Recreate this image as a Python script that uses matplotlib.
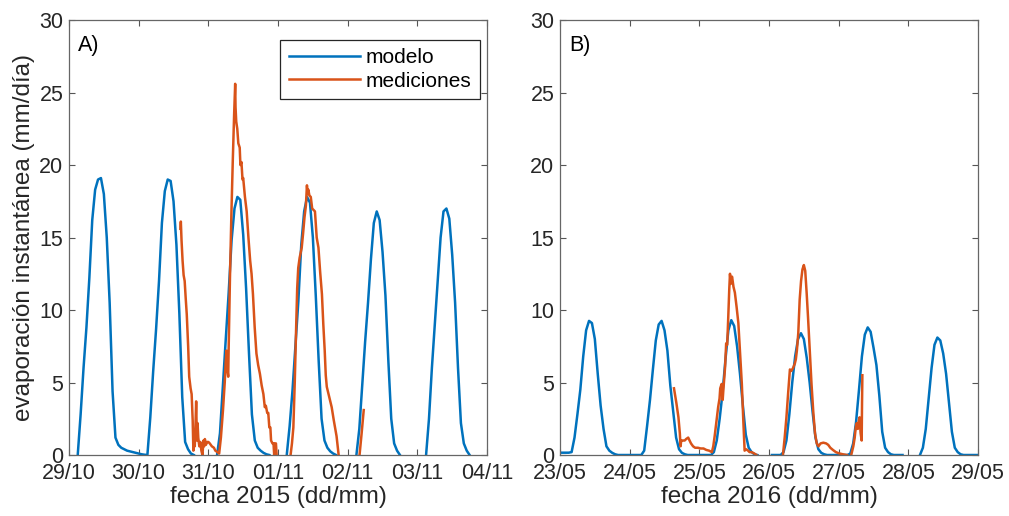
import numpy as np
import matplotlib
matplotlib.use("Agg")
import matplotlib.pyplot as plt
import matplotlib.dates as mdates

plt.rcParams['font.family'] = ['Liberation Sans', 'DejaVu Sans']

nan = np.nan
AZUL = '#0072BD'
NARANJA = '#D95319'
GRIS = '#262626'

# ---------------------------------------------------------------------------
# A) 2015: modelo cada hora desde 29/10 00:00
inicio_A = '2015-10-29T00:00'
modelo_A = [
    nan, nan, nan, 0, 2.8, 6.0, 8.8, 12.2, 16.2, 18.3, 19.0, 19.1, 18.0, 15.0, 10.5, 4.4, 1.2, 0.7, 0.5, 0.4, 0.3, 0.25, 0.2, 0.15,
    0.1, 0.05, 0.02, 0, 2.6, 5.8, 8.7, 12.0, 16.0, 18.2, 19.0, 18.9, 17.5, 14.5, 9.8, 4.0, 0.9, 0.4, 0.1, 0, nan, nan, nan, nan,
    nan, nan, nan, 0, 1.5, 4.8, 8.0, 11.2, 14.8, 17.0, 17.8, 17.6, 15.2, 11.5, 7.0, 2.8, 1.0, 0.5, 0.3, 0.15, 0.05, 0, nan, nan,
    nan, nan, nan, 0, 2.0, 4.5, 7.5, 10.6, 14.5, 16.8, 17.8, 17.4, 15.0, 11.0, 6.5, 2.5, 1.0, 0.5, 0.25, 0.1, 0, nan, nan, nan,
    nan, nan, nan, 0, 1.8, 4.8, 7.8, 10.5, 13.5, 16.0, 16.8, 16.2, 14.0, 11.0, 6.5, 2.5, 0.8, 0.3, 0, nan, nan, nan, nan, nan,
    nan, nan, nan, 0, 2.5, 6.0, 9.0, 12.0, 15.0, 16.8, 17.0, 16.3, 13.8, 10.5, 6.0, 2.2, 0.8, 0.3, 0, nan, nan, nan, nan, nan,
]

# mediciones (dias desde el inicio, valor); nan separa tramos
med_A_dias = [
    1.60, 1.605, 1.615, 1.63, 1.645, 1.66, 1.675, 1.69, 1.71, 1.725, 1.745, 1.76, 1.775, 1.785, 1.795,
    1.805, 1.815, 1.825, 1.835, 1.845, 1.855, 1.87, 1.885, 1.90, 1.915, 1.93, 1.94, 1.95, 1.965, 1.98,
    2.00, 2.02, 2.05, 2.08, 2.10, 2.13, 2.155, 2.18, 2.21, 2.235, 2.25, 2.26, 2.27, 2.285, 2.29, 2.31,
    2.33, 2.35, 2.37, 2.385, 2.39, 2.40, 2.415, 2.43, 2.45, 2.46, 2.475, 2.49, 2.50, 2.525, 2.55, 2.575,
    2.60, 2.62, 2.64, 2.665, 2.69, 2.715, 2.74, 2.765, 2.79, 2.81, 2.825, 2.845, 2.86, 2.875, 2.89, 2.90,
    2.92, 2.935, 2.945, 2.955, 2.97, 2.98,
    3.08,
    3.18, 3.20, 3.22, 3.24, 3.26, 3.275, 3.29, 3.31, 3.34, 3.36, 3.38, 3.40, 3.415, 3.425, 3.435, 3.45,
    3.47, 3.49, 3.51, 3.53, 3.555, 3.58, 3.605, 3.63, 3.65, 3.67, 3.685, 3.70, 3.735, 3.77, 3.80, 3.84, 3.87,
    4.00,
    4.17, 4.20, 4.23,
]
med_A_vals = [
    15.6, 16.1, 14.8, 13.4, 12.4, 12.0, 10.8, 9.7, 7.5, 5.4, 4.6, 4.2, 2.4, 0.3, 1.5,
    0.6, 2.0, 3.7, 1.0, 2.2, 1.2, 0.6, 0.9, 0.3, 0.0, 1.0, 0.6, 1.1, 0.7, 0.9,
    0.9, 0.8, 0.6, 0.5, 0.3, 0.2, 0.1, 1.2, 3.1, 5.0, 6.5, 7.2, 6.0, 5.4, 7.0, 12.2,
    16.5, 20.2, 23.5, 25.6, 24.0, 23.0, 22.5, 21.5, 21.2, 20.0, 20.2, 19.0, 19.1, 17.8, 16.8, 15.0,
    13.4, 12.5, 11.1, 8.8, 7.0, 6.2, 5.6, 4.8, 4.2, 3.3, 3.4, 2.9, 2.9, 1.9, 1.9, 1.0,
    0.8, 0.8, 0.0, 0.8, 0.8, 0.0,
    nan,
    0.0, 0.8, 1.9, 5.0, 8.8, 11.5, 12.9, 13.6, 14.3, 15.3, 16.4, 17.2, 18.6, 18.0, 18.3, 17.9,
    17.8, 17.0, 16.9, 16.8, 15.0, 14.3, 12.6, 11.1, 9.0, 7.2, 5.5, 4.7, 4.0, 3.3, 2.4, 1.3, 0.0,
    nan,
    0.0, 1.5, 3.1,
]

# ---------------------------------------------------------------------------
# B) 2016: modelo cada hora desde 23/05 00:00
inicio_B = '2016-05-23T00:00'
modelo_B = [
    0.16, 0.16, 0.16, 0.16, 0.2, 1.2, 2.8, 4.5, 6.8, 8.6, 9.25, 9.1, 8.0, 5.6, 3.4, 1.8, 0.6, 0.3, 0.15, 0.05, 0, 0, 0, 0,
    0, 0, 0, 0, 0, 0.3, 2.0, 3.8, 5.9, 7.9, 9.0, 9.25, 8.6, 7.2, 4.8, 3.0, 1.2, 0.4, 0.15, 0.05, 0, 0, 0, 0,
    0, 0, 0, 0, 0, 0.2, 1.0, 2.5, 4.3, 6.6, 8.6, 9.3, 8.9, 7.5, 5.6, 3.4, 1.4, 0.5, 0.2, 0.05, 0, nan, nan, nan,
    nan, 0, 0, 0, 0, 0.2, 1.0, 2.8, 5.0, 6.8, 8.0, 8.4, 8.0, 6.7, 5.0, 3.0, 1.2, 0.4, 0.15, 0.05, 0, 0, 0, 0,
    0, 0, 0, 0, 0.1, 0.8, 2.3, 4.5, 6.8, 8.3, 8.8, 8.5, 7.4, 6.2, 4.1, 1.6, 0.5, 0.2, 0.05, 0, 0, 0, 0, nan,
    nan, nan, nan, nan, 0, 0.5, 1.8, 3.9, 6.0, 7.6, 8.1, 7.9, 7.0, 5.6, 3.6, 1.6, 0.5, 0.2, 0.05, 0, 0, 0, 0, 0,
    0,
]

med_B_dias = [
    1.636, 1.67, 1.70, 1.72, 1.73, 1.74, 1.76, 1.79, 1.81, 1.84, 1.86, 1.88, 1.91, 1.94, 1.98, 2.02,
    2.06, 2.10, 2.14, 2.18, 2.20, 2.22, 2.245, 2.27, 2.29, 2.30, 2.32, 2.335, 2.345, 2.37, 2.385, 2.40,
    2.415, 2.43, 2.44, 2.45, 2.46, 2.47, 2.49, 2.51, 2.535, 2.56, 2.585, 2.61, 2.63, 2.65, 2.67, 2.70,
    2.72, 2.75, 2.79, 2.82,
    3.00,
    3.20, 3.225, 3.25, 3.275, 3.30, 3.32, 3.345, 3.37, 3.385, 3.40, 3.42, 3.44, 3.46, 3.48, 3.50, 3.52,
    3.54, 3.56, 3.585, 3.61, 3.635, 3.66, 3.685, 3.71, 3.74, 3.78, 3.82, 3.85, 3.88, 3.92, 3.96, 4.00,
    4.06, 4.12,
    4.15,
    4.18, 4.21, 4.23, 4.245, 4.26, 4.275, 4.29, 4.30, 4.315, 4.33, 4.335, 4.34,
]
med_B_vals = [
    4.6, 3.6, 2.6, 1.5, 0.6, 1.0, 1.0, 1.0, 1.1, 1.2, 1.0, 0.8, 0.6, 0.5, 0.5, 0.45,
    0.45, 0.35, 0.3, 0.2, 0.6, 1.3, 2.3, 3.3, 3.9, 4.6, 4.9, 3.8, 4.5, 6.1, 7.7, 7.6,
    9.5, 11.5, 12.5, 11.8, 12.2, 12.3, 11.6, 11.2, 10.2, 9.1, 7.0, 4.9, 2.5, 0.3, 0.4, 0.3,
    0.2, 0.2, 0.1, 0.0,
    nan,
    0.0, 1.2, 2.6, 4.3, 5.9, 5.8, 6.0, 6.3, 6.6, 7.2, 8.4, 10.7, 12.0, 12.8, 13.1, 12.7,
    11.2, 9.5, 7.2, 4.9, 3.0, 1.5, 0.8, 0.6, 0.8, 0.85, 0.8, 0.7, 0.5, 0.34, 0.2, 0.12,
    0.05, 0.0,
    nan,
    0.0, 0.6, 1.2, 1.9, 2.2, 1.8, 2.4, 2.6, 1.5, 1.0, 3.5, 5.5,
]

#----------------------------------------------------------------------------------------------------------#

def horas_a_fecha(inicio, n):
    return np.datetime64(inicio) + np.arange(n) * np.timedelta64(1, 'h')


def dias_a_fecha(inicio, dias):
    seg = np.round(np.asarray(dias) * 86400).astype('int64')
    return np.datetime64(inicio) + seg.astype('timedelta64[s]')


def panel(ax, inicio, modelo, med_dias, med_vals, letra, xlabel):
    ax.plot(horas_a_fecha(inicio, len(modelo)), modelo, color=AZUL, lw=1.8, label='modelo')
    ax.plot(dias_a_fecha(inicio, med_dias), med_vals, color=NARANJA, lw=1.8, label='mediciones')

    t0 = np.datetime64(inicio)
    ax.set_xlim(t0, t0 + np.timedelta64(6, 'D'))
    ax.set_ylim(0, 30)
    ax.set_yticks(range(0, 31, 5))
    ax.xaxis.set_major_locator(mdates.DayLocator())
    ax.xaxis.set_major_formatter(mdates.DateFormatter('%d/%m'))

    ax.tick_params(direction='in', top=True, right=True, length=4, width=0.8,
                   color='#555555', labelcolor=GRIS, labelsize=15.5, pad=4)
    ax.tick_params(axis='x', pad=5.5)
    for s in ax.spines.values():
        s.set_color('#666666')
        s.set_linewidth(0.9)

    ax.set_xlabel(xlabel, fontsize=17.5, color=GRIS, labelpad=2)
    ax.text(0.022, 0.942, letra, transform=ax.transAxes, fontsize=15.5, color='black', va='center')


fig = plt.figure(figsize=(10.09, 5.16), dpi=100)
axA = fig.add_axes([0.0684, 0.1182, 0.4143, 0.8430])
axB = fig.add_axes([0.5550, 0.1182, 0.4143, 0.8430])

panel(axA, inicio_A, modelo_A, med_A_dias, med_A_vals, 'A)', 'fecha 2015 (dd/mm)')
panel(axB, inicio_B, modelo_B, med_B_dias, med_B_vals, 'B)', 'fecha 2016 (dd/mm)')

axA.set_ylabel('evaporación instantánea (mm/día)', fontsize=17.5, color=GRIS, labelpad=3)

leg = axA.legend(loc='upper right', bbox_to_anchor=(0.983, 0.954), borderaxespad=0,
                 fontsize=15, handlelength=3.4, handletextpad=0.3, labelspacing=0.2,
                 borderpad=0.4, fancybox=False, framealpha=1)
leg.get_frame().set_edgecolor(GRIS)
leg.get_frame().set_linewidth(0.9)

fig.savefig('out.png', dpi=100)
